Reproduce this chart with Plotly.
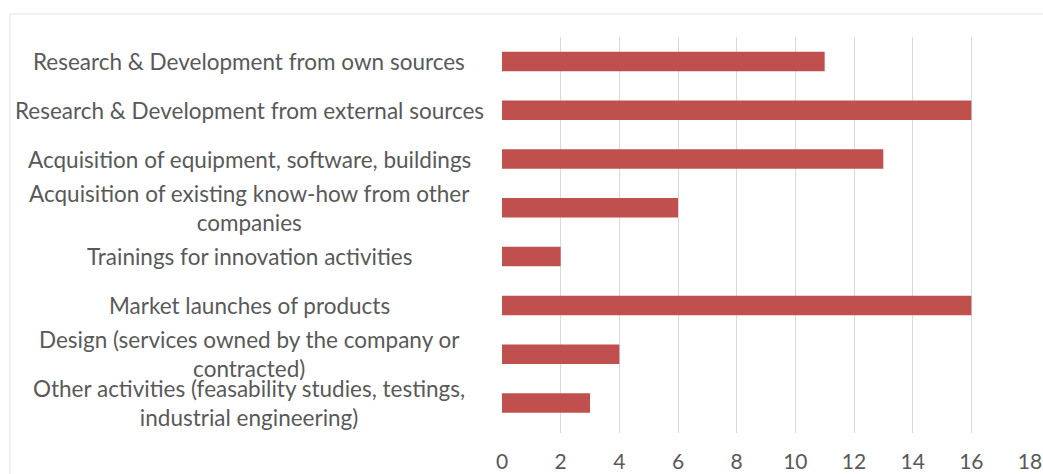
import plotly.graph_objects as go

categories = [
    "Research & Development from own sources",
    "Research & Development from external sources",
    "Acquisition of equipment, software, buildings",
    "Acquisition of existing know-how from other<br>companies",
    "Trainings for innovation activities",
    "Market launches of products",
    "Design (services owned by the company or<br>contracted)",
    "Other activities (feasability studies, testings,<br>industrial engineering)",
]
values = [11, 16, 13, 6, 2, 16, 4, 3]
tick_vals = [0, 2, 4, 6, 8, 10, 12, 14, 16, 18]

W, H = 1043, 474
L, R, T, B = 502, 13, 37, 41
pw, ph = W - L - R, H - T - B

def px_x(px):
    return (px - L) / pw

def px_y(py):
    return (H - B - py) / ph

text_color = "#595959"
font_family = "Lato, 'Open Sans', sans-serif"

fig = go.Figure(go.Bar(
    x=values,
    y=categories,
    orientation="h",
    marker=dict(color="#c0504d", line=dict(width=0)),
    hoverinfo="x+y",
))

annotations = []
for c in categories:
    annotations.append(dict(
        x=px_x(249), xref="paper", y=c, yref="y",
        text=c, showarrow=False, xanchor="center", yanchor="middle",
        align="center", font=dict(family=font_family, size=22.5, color=text_color),
    ))

fig.update_layout(
    width=W, height=H,
    margin=dict(l=L, r=R, t=T, b=B, autoexpand=False),
    paper_bgcolor="white", plot_bgcolor="white",
    bargap=0.6,
    showlegend=False,
    annotations=annotations,
    shapes=[
        dict(type="line", xref="paper", yref="paper",
             x0=px_x(10), x1=px_x(1043), y0=px_y(14), y1=px_y(14),
             line=dict(color="#e3e3e3", width=1)),
        dict(type="line", xref="paper", yref="paper",
             x0=px_x(10), x1=px_x(10), y0=px_y(14), y1=px_y(474),
             line=dict(color="#e3e3e3", width=1)),
    ],
    xaxis=dict(
        range=[0, 18], tickvals=tick_vals, ticktext=[str(v) for v in tick_vals],
        showgrid=True, gridcolor="#d9d9d9", gridwidth=1,
        zeroline=False, showline=False, ticks="",
        automargin=False,
        ticklabelstandoff=14,
        tickfont=dict(family=font_family, size=21, color=text_color),
    ),
    yaxis=dict(
        autorange="reversed", showticklabels=False, showgrid=False,
        zeroline=False, showline=False, ticks="", automargin=False,
    ),
)

fig.write_html("out.html")
